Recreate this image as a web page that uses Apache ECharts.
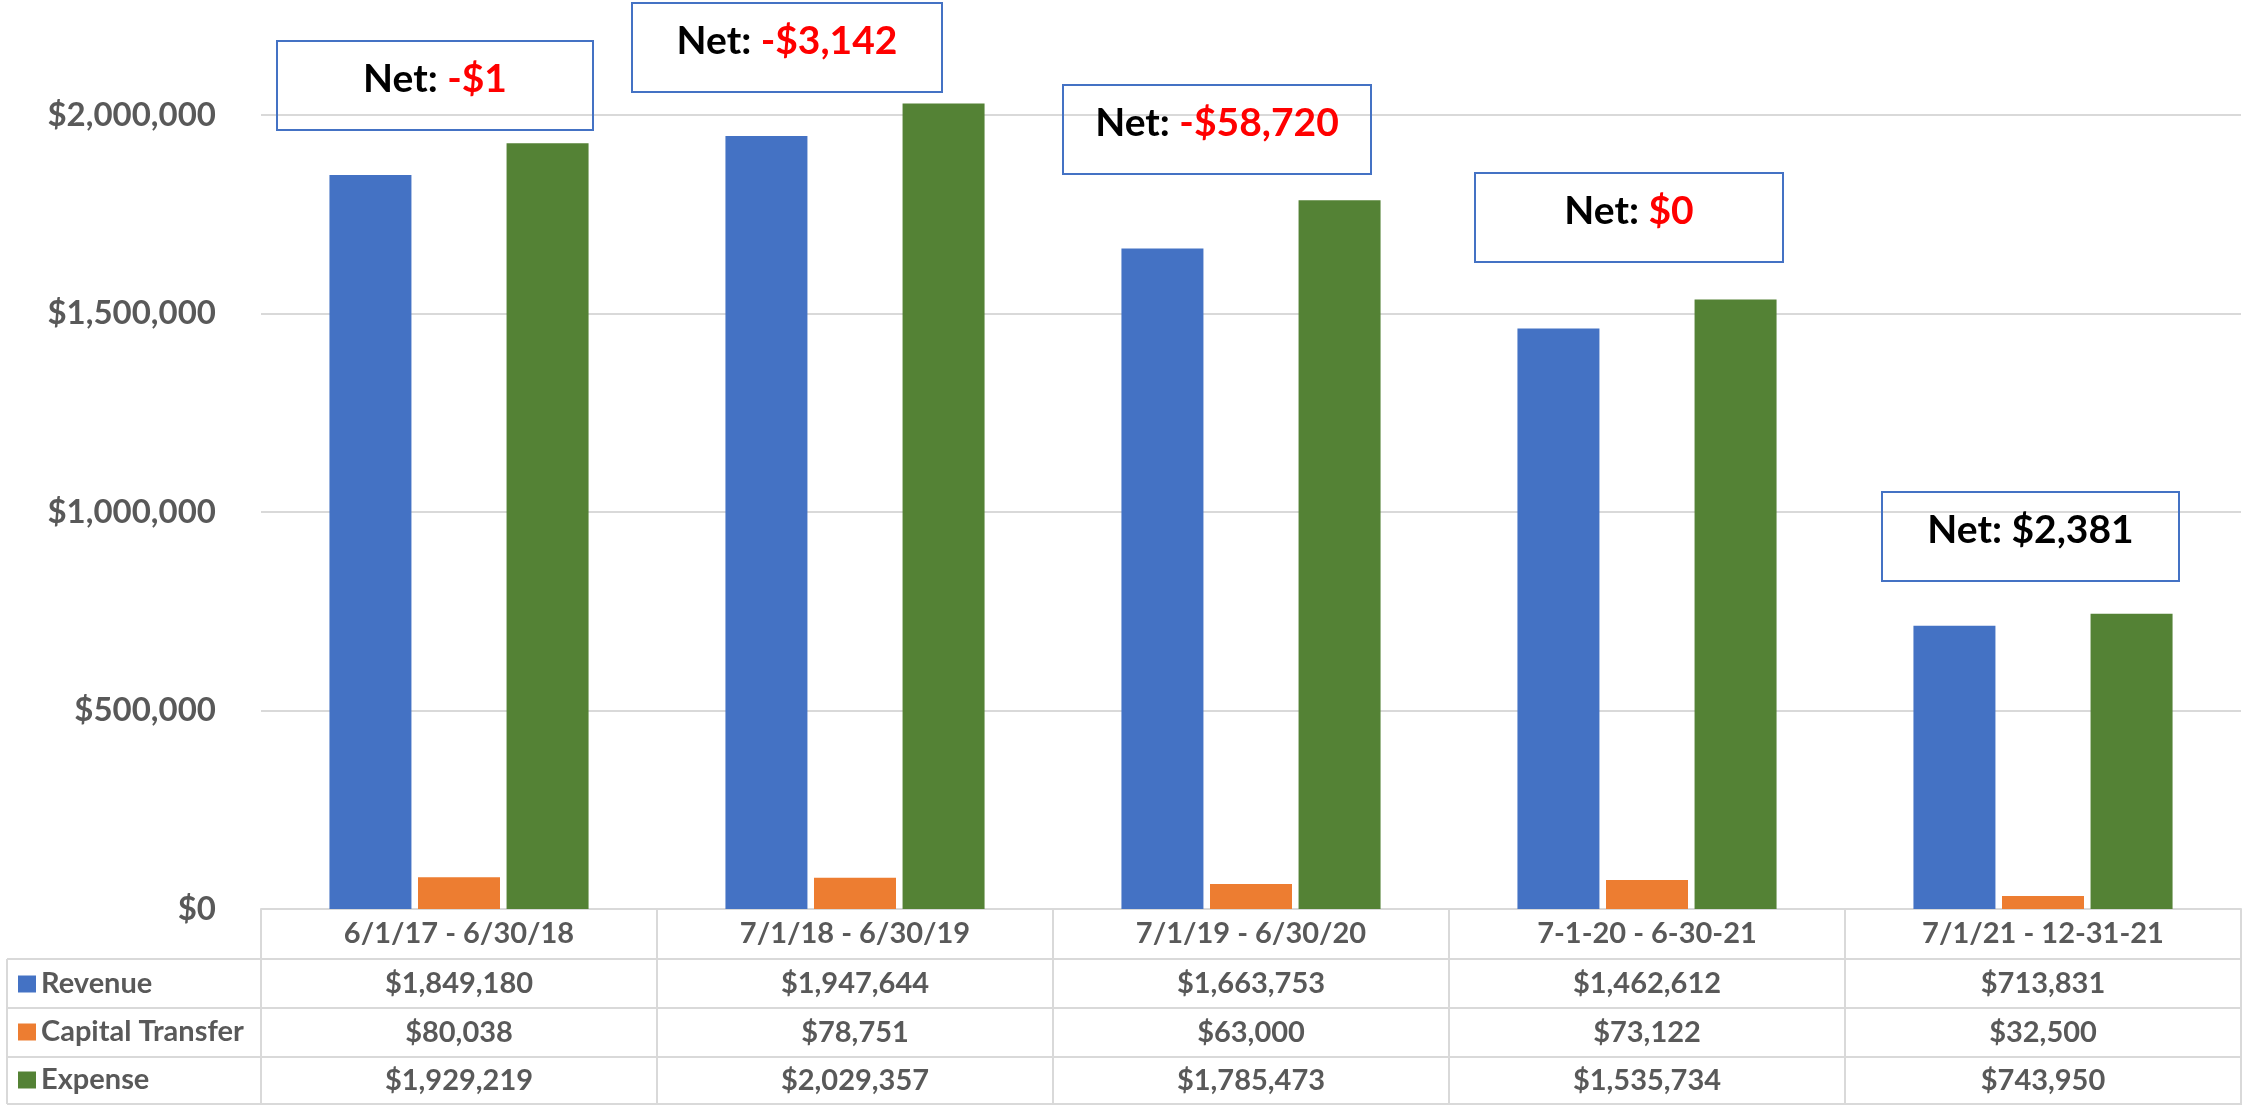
<!DOCTYPE html>
<html>
<head>
<meta charset="utf-8">
<title>Revenue vs Expense</title>
<script src="https://cdn.jsdelivr.net/npm/echarts@6/dist/echarts.min.js"></script>
<style>
  html, body { margin: 0; padding: 0; background: #fff; }
  #chart { width: 2244px; height: 1105px; }
</style>
</head>
<body>
<div id="chart"></div>
<script>
// data
const categories = ['6/1/17 - 6/30/18', '7/1/18 - 6/30/19', '7/1/19 - 6/30/20', '7-1-20 - 6-30-21', '7/1/21 - 12-31-21'];
const seriesNames = ['Revenue', 'Capital Transfer', 'Expense'];
const revenue = [1849180, 1947644, 1663753, 1462612, 713831];
const capitalTransfer = [80038, 78751, 63000, 73122, 32500];
const expense = [1929219, 2029357, 1785473, 1535734, 743950];
const netLabels = ['-$1', '-$3,142', '-$58,720', '$0', '$2,381'];

// styles / layout
const colors = ['#4472C4', '#ED7D31', '#548235'];
const netColors = ['#FF0000', '#FF0000', '#FF0000', '#FF0000', '#000000'];
// annotation text boxes: [left, top, width]
const netBoxes = [[277, 41, 316], [632, 3, 310], [1063, 85, 308], [1475, 173, 308], [1882, 492, 297]];
const FONT = 'Lato, "Open Sans", sans-serif';
const GRAY = '#595959';
const LINE = '#d9d9d9';

const money = (v) => '$' + v.toLocaleString('en-US');

const chart = echarts.init(document.getElementById('chart'));

// table grid lines + net boxes
const graphics = [];
[959, 1008, 1057, 1104].forEach((y) => {
  graphics.push({
    type: 'line', silent: true,
    shape: { x1: 7, y1: y, x2: 2241, y2: y },
    style: { stroke: LINE, lineWidth: 2 }
  });
});
graphics.push({
  type: 'line', silent: true,
  shape: { x1: 7, y1: 959, x2: 7, y2: 1104 },
  style: { stroke: LINE, lineWidth: 2 }
});
netBoxes.forEach((b, i) => {
  graphics.push({
    type: 'rect', silent: true, z: 20,
    shape: { x: b[0], y: b[1], width: b[2], height: 89 },
    style: { fill: 'none', stroke: '#4472C4', lineWidth: 2 }
  });
  graphics.push({
    type: 'text', silent: true, z: 21,
    style: {
      x: b[0] + b[2] / 2,
      y: b[1] + 38,
      text: '{a|Net: }{b|' + netLabels[i] + '}',
      align: 'center',
      verticalAlign: 'middle',
      rich: {
        a: { fontFamily: FONT, fontWeight: 'bold', fontSize: 39, fill: '#000' },
        b: { fontFamily: FONT, fontWeight: 'bold', fontSize: 39, fill: netColors[i] }
      }
    }
  });
});

const option = {
  animation: false,
  backgroundColor: '#fff',
  color: colors,
  grid: { left: 261, right: 3, top: 0, bottom: 196, containLabel: false },
  legend: {
    orient: 'vertical',
    left: 18,
    top: 960,
    padding: 0,
    itemGap: 0,
    itemWidth: 18,
    itemHeight: 17,
    icon: 'rect',
    selectedMode: false,
    data: seriesNames,
    textStyle: { fontFamily: FONT, fontWeight: 'bold', fontSize: 29, color: GRAY, lineHeight: 48 }
  },
  xAxis: {
    type: 'category',
    data: categories,
    axisLine: { show: true, lineStyle: { color: LINE, width: 2 } },
    axisTick: { show: true, interval: 0, length: 196, lineStyle: { color: LINE, width: 2 } },
    axisLabel: {
      interval: 0,
      margin: 0,
      formatter: (value, idx) =>
        '{h|' + value + '}\n{v|' + money(revenue[idx]) + '}\n{v|' +
        money(capitalTransfer[idx]) + '}\n{w|' + money(expense[idx]) + '}',
      rich: {
        h: { fontFamily: FONT, fontWeight: 'bold', fontSize: 29, color: GRAY, lineHeight: 50 },
        v: { fontFamily: FONT, fontWeight: 'bold', fontSize: 29, color: GRAY, lineHeight: 49 },
        w: { fontFamily: FONT, fontWeight: 'bold', fontSize: 29, color: GRAY, lineHeight: 47 }
      }
    }
  },
  yAxis: {
    type: 'value',
    min: 0,
    max: 2290000,
    interval: 500000,
    axisLine: { show: false },
    axisTick: { show: false },
    splitLine: { showMaxLine: false, lineStyle: { color: LINE, width: 2 } },
    axisLabel: {
      margin: 45,
      showMaxLabel: false,
      fontFamily: FONT,
      fontWeight: 'bold',
      fontSize: 33,
      color: GRAY,
      formatter: (v) => (v % 500000 === 0 ? money(v) : '')
    }
  },
  series: [
    { name: seriesNames[0], type: 'bar', data: revenue, barWidth: 82, barGap: '8%' },
    { name: seriesNames[1], type: 'bar', data: capitalTransfer, barWidth: 82, barGap: '8%' },
    { name: seriesNames[2], type: 'bar', data: expense, barWidth: 82, barGap: '8%' }
  ],
  graphic: graphics
};

chart.setOption(option);
</script>
</body>
</html>
